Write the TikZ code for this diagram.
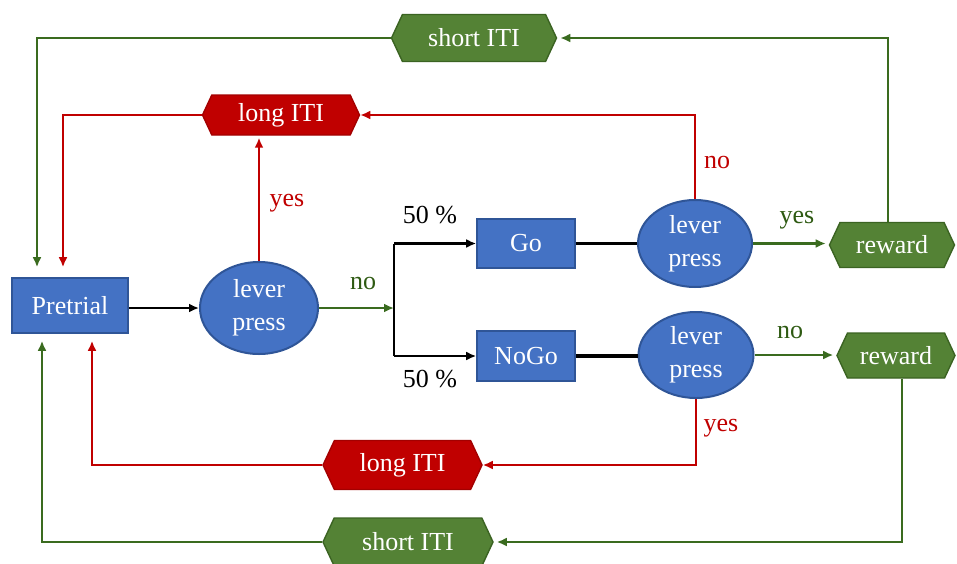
\documentclass[tikz,border=0pt]{standalone}
\usepackage{fontspec}
\setmainfont{Liberation Serif}
\usetikzlibrary{shapes.geometric,shapes.symbols,arrows.meta,calc}

\definecolor{boxblue}{HTML}{4472C4}
\definecolor{boxblueline}{HTML}{2F5597}
\definecolor{hexgreen}{HTML}{548235}
\definecolor{hexgreenline}{HTML}{3B6322}
\definecolor{linkgreen}{HTML}{3A6B1F}
\definecolor{labelgreen}{HTML}{2E5A12}
\definecolor{hexred}{HTML}{C00000}
\definecolor{linkred}{HTML}{C00000}

\tikzset{
  txt/.style={font=\fontsize{26}{33}\selectfont},
  statebox/.style={txt, rectangle, fill=boxblue, draw=boxblueline, line width=1.6pt,
    text=white, inner sep=0pt},
  decision/.style={txt, ellipse, fill=boxblue, draw=boxblueline, line width=2pt,
    text=white, align=center, inner sep=0pt},
  hexnode/.style={txt, signal, signal to=west and east, signal pointer angle=130,
    text=white, inner sep=0pt, line width=1.4pt},
  greenhex/.style={hexnode, fill=hexgreen, draw=hexgreenline},
  redhex/.style={hexnode, fill=hexred, draw=hexred!85!black},
  tip/.style={-{Latex[length=10pt,width=9pt]}},
  blacklink/.style={tip, line width=2.6pt, black},
  greenlink/.style={tip, line width=2.6pt, linkgreen},
  redlink/.style={tip, line width=2.6pt, linkred},
  redlabel/.style={txt, text=linkred},
  greenlabel/.style={txt, text=labelgreen},
  blacklabel/.style={txt, text=black}
}

\begin{document}
\begin{tikzpicture}[x=1pt,y=-1pt]
  \useasboundingbox (0,0) rectangle (957,563);

  % states and decisions
  \node[statebox, minimum width=116pt, minimum height=55pt] (pre) at (70,305.5) {Pretrial};
  \node[decision, minimum width=118pt, minimum height=92pt] (lp1) at (259,308) {lever\\press};
  \node[statebox, minimum width=98pt, minimum height=49pt] (go) at (526,243.5) {Go};
  \node[statebox, minimum width=98pt, minimum height=50pt] (nogo) at (526,356) {NoGo};
  \node[decision, minimum width=114pt, minimum height=87pt] (lp2) at (695,243.5) {lever\\press};
  \node[decision, minimum width=115pt, minimum height=86pt] (lp3) at (696,355) {lever\\press};

  % outcomes
  \node[greenhex, minimum width=165pt, minimum height=47pt] (stop) at (474,38) {short ITI};
  \node[redhex, minimum width=157pt, minimum height=40pt] (ltop) at (281,115) {long ITI};
  \node[greenhex, minimum width=125pt, minimum height=45pt] (rtop) at (892,245) {reward};
  \node[greenhex, minimum width=118pt, minimum height=45pt] (rbot) at (896,355.5) {reward};
  \node[redhex, minimum width=159pt, minimum height=49pt] (lbot) at (402.5,465) {long ITI};
  \node[greenhex, minimum width=170pt, minimum height=48pt] (sbot) at (408,542) {short ITI};

  % branch point for the 50 % split
  \coordinate (split) at (394,308);
  \coordinate (splitgo) at (394,243.5);
  \coordinate (splitnogo) at (394,356);

  % first lever press
  \draw[blacklink] (pre.east |- lp1) -- (lp1.west);
  \draw[greenlink] (lp1.east) -- (split);
  \node[greenlabel] at (363,283) {no};
  \draw[redlink, shorten >=2pt] (lp1.north) -- (lp1.north |- ltop.south);
  \node[redlabel] at (287,203) {yes};

  % 50 % split into Go / NoGo
  \draw[line width=2.6pt, black] (splitgo) -- (splitnogo);
  \draw[blacklink] (splitgo) -- (go.west);
  \draw[blacklink] (splitnogo) -- (nogo.west);
  \node[blacklabel] at (430,215) {50 \%};
  \node[blacklabel] at (430,379) {50 \%};

  % Go trial
  \draw[line width=2.6pt, black] (go.east) -- (go.east -| lp2.west);
  \draw[greenlink, shorten >=3pt] (lp2.east) -- (lp2.east -| rtop.west);
  \node[greenlabel] at (797,220) {yes};
  \draw[redlink] (lp2.north) |- (ltop.east);
  \node[redlabel] at (717,162) {no};

  % NoGo trial
  \draw[line width=3.4pt, black] (nogo.east) -- (nogo.east -| lp3.west);
  \draw[greenlink, shorten >=3pt] (lp3.east) -- (lp3.east -| rbot.west);
  \node[greenlabel] at (790,332) {no};
  \draw[redlink] (lp3.south) |- (lbot.east);
  \node[redlabel] at (721,428) {yes};

  % returns to the pretrial state
  \draw[greenlink, shorten >=3pt] ([xshift=-4pt]rtop.north) |- (stop.east);
  \draw[greenlink, shorten >=10pt] (stop.west) -| ([xshift=-33pt]pre.north);
  \draw[redlink, shorten >=10pt] (ltop.west) -| ([xshift=-7pt]pre.north);
  \draw[redlink, shorten >=7pt] (lbot.west) -| ([xshift=22pt]pre.south);
  \draw[greenlink, shorten >=3pt] ([xshift=6pt]rbot.south) |- (sbot.east);
  \draw[greenlink, shorten >=7pt] (sbot.west) -| ([xshift=-28pt]pre.south);
\end{tikzpicture}
\end{document}
